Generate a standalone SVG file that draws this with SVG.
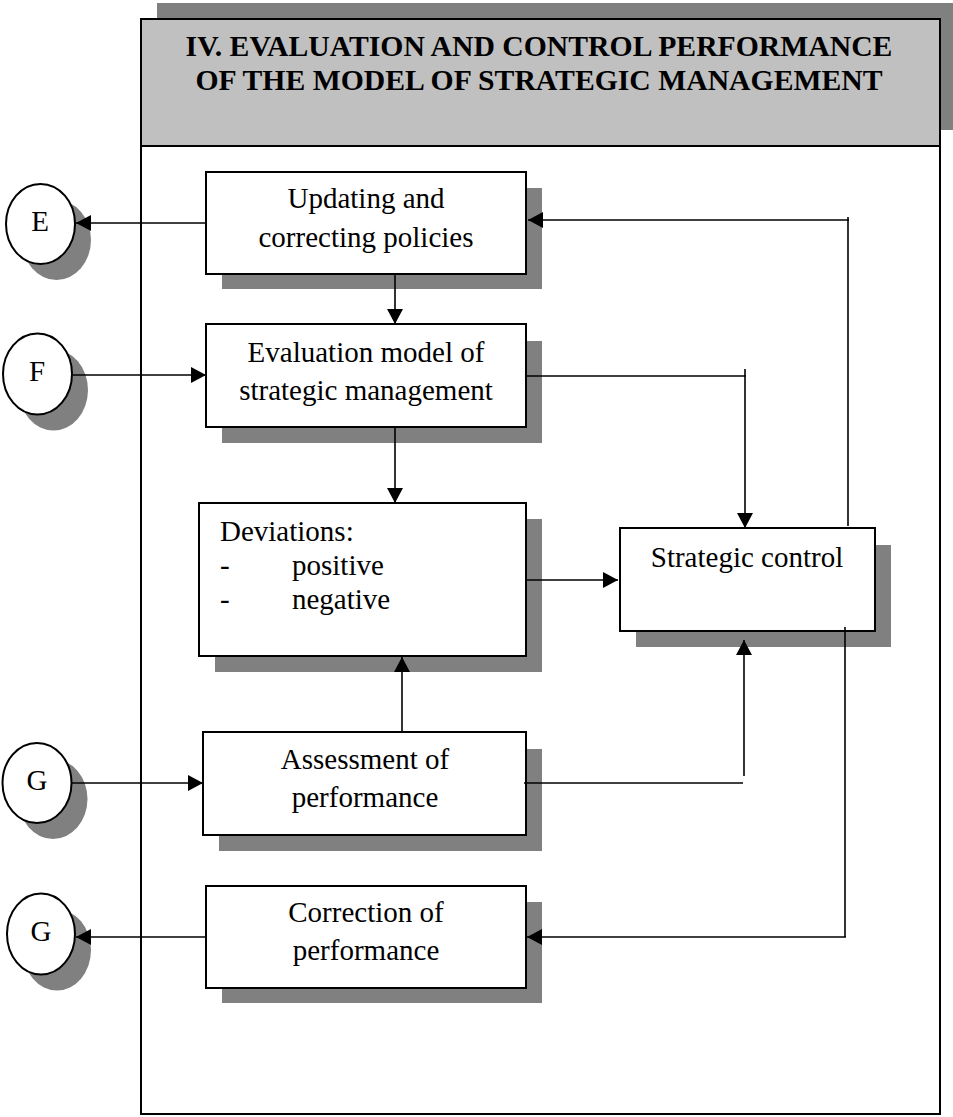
<svg xmlns="http://www.w3.org/2000/svg" width="953" height="1117" viewBox="0 0 953 1117">
<style>
.sh{fill:#808080;stroke:none}
.box{fill:#fff;stroke:#000;stroke-width:2}
.t{font-family:"Liberation Serif","Times New Roman",serif;font-size:29px;fill:#000}
.c{text-anchor:middle}
.hd{font-family:"Liberation Serif","Times New Roman",serif;font-size:29.7px;font-weight:bold;fill:#000;text-anchor:middle}
.ln{fill:none;stroke:#000;stroke-width:1.6}
.ar{fill:none;stroke:#000;stroke-width:1.6;marker-end:url(#ah)}
</style>
<defs>
<marker id="ah" markerUnits="userSpaceOnUse" markerWidth="16" markerHeight="16" viewBox="0 0 15 16" refX="15" refY="8" orient="auto">
<path d="M0,0 L15,8 L0,16 z" fill="#000"/>
</marker>
</defs>
<rect width="953" height="1117" fill="#fff"/>
<g id="frame">
<rect x="157" y="3" width="800" height="127" class="sh"/>
<rect x="141" y="19" width="799" height="1095" fill="#fff" stroke="#000" stroke-width="2"/>
<rect x="141" y="19" width="799" height="127" fill="#c0c0c0" stroke="#000" stroke-width="2"/>
<text class="hd" x="539" y="56">IV. EVALUATION AND CONTROL PERFORMANCE</text>
<text class="hd" x="539" y="90">OF THE MODEL OF STRATEGIC MANAGEMENT</text>
</g>
<g id="circleE">
<ellipse cx="56.5" cy="240" rx="34.5" ry="40" class="sh"/>
<ellipse cx="40.5" cy="224" rx="34.5" ry="40" class="box"/>
<text class="t c" x="40" y="231">E</text>
</g>
<g id="circleF">
<ellipse cx="53.5" cy="390" rx="34.5" ry="40.5" class="sh"/>
<ellipse cx="37.5" cy="374" rx="34.5" ry="40.5" class="box"/>
<text class="t c" x="37" y="381">F</text>
</g>
<g id="circleG1">
<ellipse cx="53" cy="799" rx="34.5" ry="40" class="sh"/>
<ellipse cx="37" cy="783" rx="34.5" ry="40" class="box"/>
<text class="t c" x="37" y="790">G</text>
</g>
<g id="circleG2">
<ellipse cx="57" cy="950" rx="34" ry="40.5" class="sh"/>
<ellipse cx="41" cy="934" rx="34" ry="40.5" class="box"/>
<text class="t c" x="41" y="941">G</text>
</g>
<g id="updating">
<rect x="222" y="188" width="320" height="101" class="sh"/>
<rect x="206" y="172" width="320" height="102" class="box"/>
<text class="t c" x="366" y="208">Updating and</text>
<text class="t c" x="366" y="247">correcting policies</text>
</g>
<g id="evaluation">
<rect x="222" y="341" width="320" height="102" class="sh"/>
<rect x="206" y="324" width="320" height="103" class="box"/>
<text class="t c" x="366" y="362">Evaluation model of</text>
<text class="t c" x="366" y="400">strategic management</text>
</g>
<g id="deviations">
<rect x="215" y="519" width="327" height="153" class="sh"/>
<rect x="199" y="503" width="327" height="153" class="box"/>
<text class="t" x="220" y="541">Deviations:</text>
<text class="t" x="220" y="575">-</text>
<text class="t" x="292" y="575">positive</text>
<text class="t" x="220" y="609">-</text>
<text class="t" x="292" y="609">negative</text>
</g>
<g id="strategic">
<rect x="636" y="545" width="255" height="102" class="sh"/>
<rect x="620" y="528" width="255" height="103" class="box"/>
<text class="t c" x="747" y="567">Strategic control</text>
</g>
<g id="assessment">
<rect x="219" y="749" width="323" height="102" class="sh"/>
<rect x="203" y="732" width="323" height="103" class="box"/>
<text class="t c" x="365" y="769">Assessment of</text>
<text class="t c" x="365" y="807">performance</text>
</g>
<g id="correction">
<rect x="222" y="902" width="320" height="101" class="sh"/>
<rect x="206" y="886" width="320" height="102" class="box"/>
<text class="t c" x="366" y="922">Correction of</text>
<text class="t c" x="366" y="960">performance</text>
</g>
<g id="connectors">
<line class="ar" x1="206" y1="223" x2="76" y2="223"/>
<line class="ar" x1="395" y1="275" x2="395" y2="324"/>
<line class="ar" x1="73" y1="375" x2="206" y2="375"/>
<line class="ln" x1="526" y1="376" x2="746" y2="376"/>
<line class="ar" x1="745" y1="369" x2="745" y2="528"/>
<line class="ar" x1="395" y1="428" x2="395" y2="503"/>
<line class="ar" x1="527" y1="580" x2="618" y2="580"/>
<line class="ln" x1="848" y1="526" x2="848" y2="217"/>
<line class="ar" x1="849" y1="220" x2="528" y2="220"/>
<line class="ar" x1="72" y1="783" x2="203" y2="783"/>
<line class="ar" x1="402" y1="731" x2="402" y2="657"/>
<line class="ln" x1="524" y1="783" x2="743" y2="783"/>
<line class="ar" x1="744" y1="776" x2="744" y2="640"/>
<line class="ln" x1="845" y1="627" x2="845" y2="937"/>
<line class="ar" x1="846" y1="937" x2="527" y2="937"/>
<line class="ar" x1="206" y1="937" x2="76" y2="937"/>
</g>
</svg>
